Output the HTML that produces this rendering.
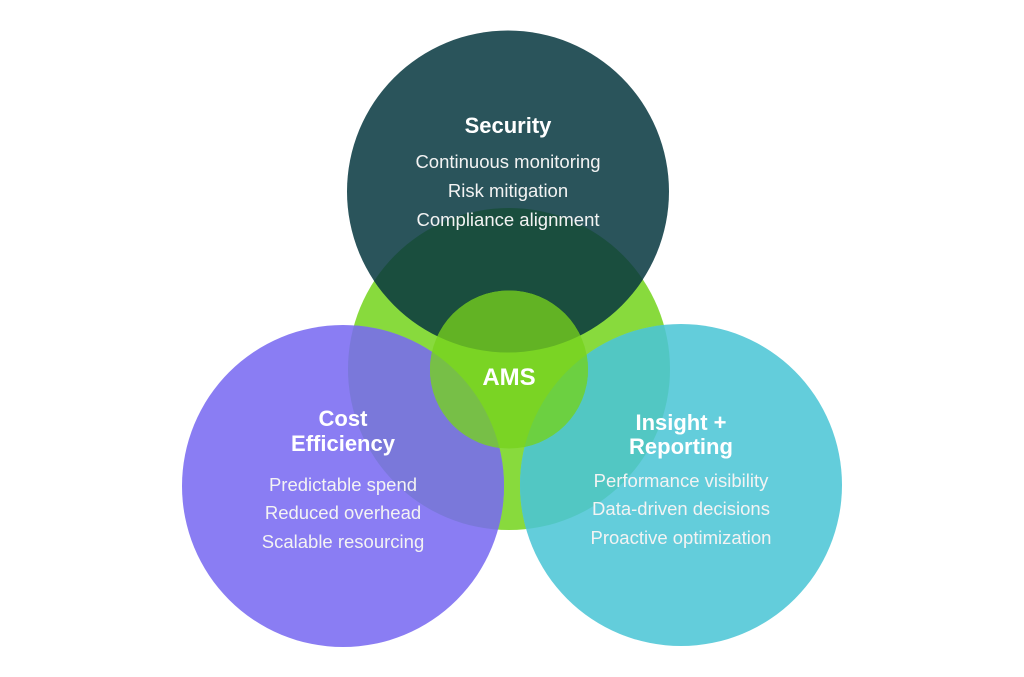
<!DOCTYPE html>
<html>
<head>
<meta charset="utf-8">
<style>
  html, body { margin: 0; padding: 0; background: #ffffff; }
  body { width: 1024px; height: 677px; overflow: hidden; }
  svg { display: block; }
  .t { font-family: "Liberation Sans", Arial, sans-serif; fill: #ffffff; text-anchor: middle; }
  .h { font-weight: bold; font-size: 22px; }
  .b { font-size: 18.5px; fill: #f3f3f3; }
</style>
</head>
<body>
<svg width="1024" height="677" viewBox="0 0 1024 677" xmlns="http://www.w3.org/2000/svg">
  <defs>
    <clipPath id="cG"><circle cx="509" cy="369" r="161"/></clipPath>
    <clipPath id="cS"><circle cx="508" cy="191.5" r="161"/></clipPath>
    <clipPath id="cP"><circle cx="343" cy="486" r="161"/></clipPath>
    <clipPath id="cC"><circle cx="681" cy="485" r="161"/></clipPath>
  </defs>

  <!-- big green -->
  <circle cx="509" cy="369" r="161" fill="#88DA3D"/>

  <!-- security -->
  <circle cx="508" cy="191.5" r="161" fill="#2A545B"/>
  <circle cx="508" cy="191.5" r="161" fill="#1A4E3E" clip-path="url(#cG)"/>

  <!-- purple -->
  <circle cx="343" cy="486" r="161" fill="#8A7DF3"/>
  <circle cx="343" cy="486" r="161" fill="#7A78DA" clip-path="url(#cG)"/>

  <!-- cyan -->
  <circle cx="681" cy="485" r="161" fill="#63CDDB"/>
  <circle cx="681" cy="485" r="161" fill="#52C7C3" clip-path="url(#cG)"/>

  <!-- inner -->
  <circle cx="509" cy="369.5" r="79" fill="#7AD424"/>
  <circle cx="509" cy="369.5" r="79" fill="#62B324" clip-path="url(#cS)"/>
  <circle cx="509" cy="369.5" r="79" fill="#77BF47" clip-path="url(#cP)"/>
  <circle cx="509" cy="369.5" r="79" fill="#6CD041" clip-path="url(#cC)"/>

  <!-- Security text -->
  <text class="t h" x="508" y="133">Security</text>
  <text class="t b" x="508" y="168">Continuous monitoring</text>
  <text class="t b" x="508" y="197">Risk mitigation</text>
  <text class="t b" x="508" y="226">Compliance alignment</text>

  <!-- AMS -->
  <text class="t" x="509" y="385" style="font-weight:bold;font-size:24px;">AMS</text>

  <!-- Cost Efficiency -->
  <text class="t h" x="343" y="426">Cost</text>
  <text class="t h" x="343" y="451">Efficiency</text>
  <text class="t b" x="343" y="491">Predictable spend</text>
  <text class="t b" x="343" y="519">Reduced overhead</text>
  <text class="t b" x="343" y="548">Scalable resourcing</text>

  <!-- Insight + Reporting -->
  <text class="t h" x="681" y="430">Insight +</text>
  <text class="t h" x="681" y="454">Reporting</text>
  <text class="t b" x="681" y="487">Performance visibility</text>
  <text class="t b" x="681" y="515">Data-driven decisions</text>
  <text class="t b" x="681" y="544">Proactive optimization</text>
</svg>
</body>
</html>
